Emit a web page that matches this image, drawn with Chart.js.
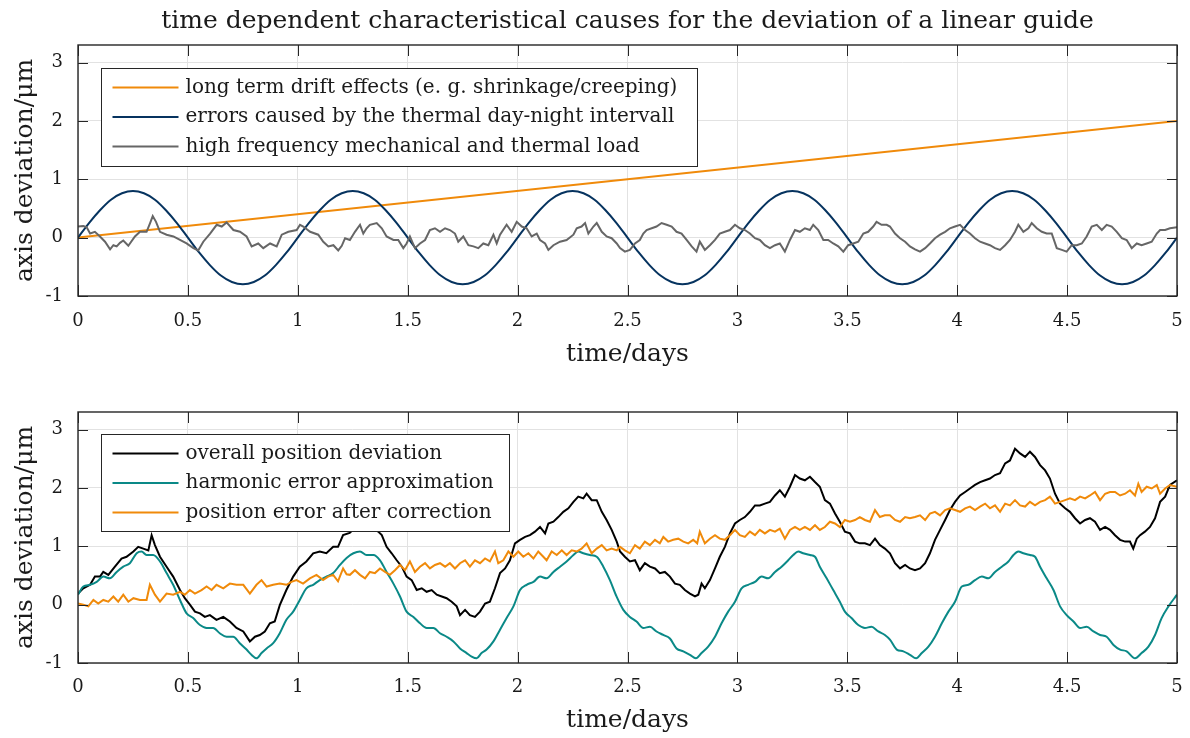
<!DOCTYPE html>
<html>
<head>
<meta charset="utf-8">
<title>linear guide deviation</title>
<script src="https://cdn.jsdelivr.net/npm/chart.js@4.4.1/dist/chart.umd.min.js"></script>
<style>
  html, body { margin: 0; padding: 0; background: #fff; }
  canvas { display: block; }
</style>
</head>
<body>
<canvas id="causesChart" width="1190" height="369"></canvas>
<canvas id="correctionChart" width="1190" height="369"></canvas>
<script>
// axis ticks
const xTicks = [0, 0.5, 1, 1.5, 2, 2.5, 3, 3.5, 4, 4.5, 5];
const yTicks = [-1, 0, 1, 2, 3];

// [days, µm]
const driftEffects = [[0, 0], [5, 2]];

const dayNight = [
  [0, 0], [0.05, 0.25], [0.1, 0.47], [0.15, 0.65], [0.2, 0.76], [0.25, 0.8], [0.3, 0.76], [0.35, 0.65], [0.4, 0.47], [0.45, 0.25],
  [0.5, 0], [0.55, -0.25], [0.6, -0.47], [0.65, -0.65], [0.7, -0.76], [0.75, -0.8], [0.8, -0.76], [0.85, -0.65], [0.9, -0.47], [0.95, -0.25],
  [1, 0], [1.05, 0.25], [1.1, 0.47], [1.15, 0.65], [1.2, 0.76], [1.25, 0.8], [1.3, 0.76], [1.35, 0.65], [1.4, 0.47], [1.45, 0.25],
  [1.5, 0], [1.55, -0.25], [1.6, -0.47], [1.65, -0.65], [1.7, -0.76], [1.75, -0.8], [1.8, -0.76], [1.85, -0.65], [1.9, -0.47], [1.95, -0.25],
  [2, 0], [2.05, 0.25], [2.1, 0.47], [2.15, 0.65], [2.2, 0.76], [2.25, 0.8], [2.3, 0.76], [2.35, 0.65], [2.4, 0.47], [2.45, 0.25],
  [2.5, 0], [2.55, -0.25], [2.6, -0.47], [2.65, -0.65], [2.7, -0.76], [2.75, -0.8], [2.8, -0.76], [2.85, -0.65], [2.9, -0.47], [2.95, -0.25],
  [3, 0], [3.05, 0.25], [3.1, 0.47], [3.15, 0.65], [3.2, 0.76], [3.25, 0.8], [3.3, 0.76], [3.35, 0.65], [3.4, 0.47], [3.45, 0.25],
  [3.5, 0], [3.55, -0.25], [3.6, -0.47], [3.65, -0.65], [3.7, -0.76], [3.75, -0.8], [3.8, -0.76], [3.85, -0.65], [3.9, -0.47], [3.95, -0.25],
  [4, 0], [4.05, 0.25], [4.1, 0.47], [4.15, 0.65], [4.2, 0.76], [4.25, 0.8], [4.3, 0.76], [4.35, 0.65], [4.4, 0.47], [4.45, 0.25],
  [4.5, 0], [4.55, -0.25], [4.6, -0.47], [4.65, -0.65], [4.7, -0.76], [4.75, -0.8], [4.8, -0.76], [4.85, -0.65], [4.9, -0.47], [4.95, -0.25],
  [5, 0]
];

const highFreqLoad = [
  [0, 0.19], [0.024, 0.2], [0.039, 0.18], [0.055, 0.07], [0.077, 0.1], [0.1, 0.02], [0.123, -0.07], [0.146, -0.2], [0.161, -0.13], [0.176, -0.15],
  [0.191, -0.09], [0.206, -0.05], [0.229, -0.14], [0.259, 0.02], [0.282, 0.1], [0.312, 0.1], [0.328, 0.25], [0.34, 0.37], [0.355, 0.27], [0.373, 0.1],
  [0.403, 0.05], [0.434, 0.02], [0.464, -0.04], [0.494, -0.1], [0.525, -0.18], [0.547, -0.22], [0.57, -0.07], [0.601, 0.07], [0.631, 0.22], [0.654, 0.19],
  [0.676, 0.26], [0.707, 0.13], [0.737, 0.1], [0.767, 0.02], [0.79, -0.15], [0.82, -0.1], [0.843, -0.18], [0.874, -0.1], [0.904, -0.15], [0.927, 0.05],
  [0.957, 0.1], [0.995, 0.13], [1.01, 0.22], [1.025, 0.19], [1.056, 0.1], [1.093, 0.05], [1.116, -0.07], [1.139, -0.15], [1.162, -0.13], [1.184, -0.22],
  [1.2, -0.14], [1.215, -0.01], [1.237, -0.04], [1.26, 0.1], [1.283, 0.22], [1.298, 0.07], [1.313, 0.16], [1.328, 0.22], [1.359, 0.25], [1.382, 0.16],
  [1.404, 0.02], [1.435, -0.04], [1.457, -0.04], [1.48, -0.18], [1.495, -0.1], [1.51, 0.02], [1.533, -0.18], [1.556, -0.1], [1.579, -0.04], [1.601, 0.13],
  [1.624, 0.16], [1.647, 0.1], [1.67, 0.16], [1.692, 0.13], [1.715, 0.07], [1.73, -0.07], [1.753, 0.02], [1.776, -0.13], [1.799, -0.15], [1.821, -0.18],
  [1.844, -0.1], [1.867, -0.13], [1.89, 0.05], [1.905, -0.1], [1.92, 0.05], [1.95, 0.22], [1.973, 0.1], [1.996, 0.27], [2.019, 0.19], [2.041, 0.16],
  [2.064, 0.02], [2.087, 0.07], [2.102, -0.04], [2.125, -0.1], [2.14, -0.21], [2.163, -0.13], [2.193, -0.07], [2.223, -0.04], [2.254, 0.05], [2.269, 0.16],
  [2.291, 0.19], [2.307, 0.25], [2.322, 0.07], [2.345, 0.19], [2.36, 0.25], [2.383, 0.1], [2.405, 0.02], [2.428, -0.01], [2.451, -0.1], [2.466, -0.18],
  [2.488, -0.24], [2.511, -0.21], [2.534, -0.1], [2.556, -0.04], [2.572, 0.07], [2.587, 0.13], [2.61, 0.16], [2.632, 0.19], [2.655, 0.25], [2.678, 0.22],
  [2.701, 0.19], [2.723, 0.1], [2.746, 0.07], [2.769, -0.04], [2.792, -0.15], [2.814, -0.24], [2.829, -0.07], [2.852, -0.21], [2.875, -0.13], [2.898, -0.04],
  [2.92, 0.07], [2.943, 0.1], [2.966, 0.13], [2.989, 0.22], [3.011, 0.16], [3.034, 0.13], [3.057, 0.07], [3.08, -0.01], [3.102, -0.04], [3.125, -0.13],
  [3.148, -0.18], [3.171, -0.13], [3.193, -0.1], [3.216, -0.24], [3.239, -0.04], [3.262, 0.13], [3.284, 0.1], [3.307, 0.16], [3.33, 0.13], [3.345, 0.22],
  [3.368, 0.13], [3.391, -0.04], [3.413, -0.04], [3.436, -0.1], [3.459, -0.15], [3.482, -0.24], [3.504, -0.13], [3.527, -0.1], [3.55, -0.07], [3.573, 0.07],
  [3.595, 0.1], [3.618, 0.19], [3.633, 0.27], [3.656, 0.22], [3.679, 0.22], [3.694, 0.19], [3.717, 0.07], [3.74, -0.01], [3.763, -0.07], [3.785, -0.15],
  [3.808, -0.2], [3.831, -0.24], [3.854, -0.18], [3.876, -0.1], [3.899, -0.01], [3.922, 0.05], [3.945, 0.1], [3.967, 0.16], [3.99, 0.19], [4.013, 0.22],
  [4.036, 0.13], [4.058, 0.07], [4.081, -0.01], [4.104, -0.07], [4.127, -0.1], [4.149, -0.13], [4.172, -0.18], [4.195, -0.21], [4.218, -0.13], [4.24, -0.04],
  [4.263, 0.1], [4.278, 0.22], [4.301, 0.1], [4.324, 0.16], [4.339, 0.25], [4.362, 0.16], [4.385, 0.1], [4.407, 0.07], [4.43, 0.07], [4.453, -0.18],
  [4.476, -0.21], [4.498, -0.24], [4.521, -0.13], [4.544, -0.13], [4.567, -0.1], [4.589, 0.02], [4.612, 0.19], [4.635, 0.22], [4.658, 0.13], [4.68, 0.22],
  [4.703, 0.19], [4.726, 0.1], [4.749, -0.01], [4.771, -0.04], [4.794, -0.18], [4.817, -0.1], [4.839, -0.13], [4.862, -0.1], [4.885, -0.07], [4.908, 0.07],
  [4.923, 0.13], [4.946, 0.13], [4.968, 0.16], [5, 0.18]
];

// [days, µm]
const overallDeviation = [
  [0, 0.19], [0.024, 0.28], [0.055, 0.34], [0.077, 0.48], [0.1, 0.48], [0.115, 0.56], [0.138, 0.51], [0.168, 0.65], [0.198, 0.79], [0.221, 0.82],
  [0.252, 0.91], [0.274, 0.99], [0.297, 0.96], [0.32, 0.93], [0.335, 1.19], [0.35, 1.02], [0.373, 0.82], [0.403, 0.65], [0.433, 0.48], [0.464, 0.25],
  [0.486, 0.11], [0.509, 0], [0.532, -0.12], [0.555, -0.15], [0.577, -0.21], [0.6, -0.18], [0.63, -0.26], [0.661, -0.21], [0.691, -0.29], [0.721, -0.4],
  [0.752, -0.46], [0.782, -0.63], [0.805, -0.55], [0.827, -0.52], [0.85, -0.46], [0.873, -0.32], [0.895, -0.29], [0.918, -0.01], [0.948, 0.25], [0.979, 0.48],
  [1.009, 0.65], [1.039, 0.74], [1.07, 0.88], [1.1, 0.91], [1.13, 0.88], [1.161, 0.99], [1.183, 0.99], [1.206, 1.19], [1.236, 1.23], [1.265, 1.33],
  [1.3, 1.42], [1.335, 1.36], [1.366, 1.25], [1.382, 1.19], [1.404, 0.99], [1.427, 0.88], [1.45, 0.76], [1.473, 0.65], [1.495, 0.48], [1.518, 0.42],
  [1.541, 0.25], [1.564, 0.28], [1.586, 0.22], [1.609, 0.25], [1.632, 0.17], [1.655, 0.14], [1.677, 0.11], [1.7, 0.05], [1.723, -0.03], [1.738, -0.18],
  [1.761, -0.09], [1.783, -0.18], [1.806, -0.21], [1.829, -0.12], [1.852, 0.02], [1.874, 0.05], [1.897, 0.28], [1.92, 0.54], [1.943, 0.62], [1.965, 0.76],
  [1.988, 1.05], [2.011, 1.11], [2.034, 1.16], [2.056, 1.19], [2.079, 1.25], [2.102, 1.33], [2.125, 1.22], [2.14, 1.39], [2.163, 1.42], [2.185, 1.5],
  [2.208, 1.59], [2.231, 1.65], [2.254, 1.76], [2.276, 1.85], [2.299, 1.82], [2.314, 1.9], [2.337, 1.79], [2.36, 1.79], [2.383, 1.59], [2.405, 1.45],
  [2.428, 1.28], [2.451, 1.08], [2.466, 0.91], [2.488, 0.82], [2.511, 0.74], [2.534, 0.76], [2.556, 0.59], [2.579, 0.71], [2.602, 0.65], [2.625, 0.62],
  [2.647, 0.54], [2.67, 0.56], [2.693, 0.48], [2.716, 0.36], [2.738, 0.34], [2.761, 0.25], [2.784, 0.19], [2.807, 0.14], [2.822, 0.17], [2.837, 0.36],
  [2.852, 0.28], [2.875, 0.42], [2.898, 0.62], [2.92, 0.82], [2.943, 0.99], [2.966, 1.22], [2.989, 1.39], [3.011, 1.45], [3.034, 1.5], [3.057, 1.59],
  [3.08, 1.7], [3.102, 1.7], [3.125, 1.73], [3.148, 1.76], [3.171, 1.87], [3.193, 1.96], [3.216, 1.85], [3.239, 2.02], [3.262, 2.22], [3.284, 2.16],
  [3.307, 2.13], [3.33, 2.19], [3.353, 2.1], [3.375, 2.02], [3.398, 1.79], [3.421, 1.73], [3.444, 1.56], [3.466, 1.42], [3.489, 1.25], [3.512, 1.22],
  [3.535, 1.08], [3.557, 1.05], [3.58, 1.05], [3.603, 1.02], [3.626, 1.13], [3.648, 1.02], [3.671, 0.96], [3.694, 0.88], [3.717, 0.71], [3.74, 0.62],
  [3.763, 0.68], [3.785, 0.62], [3.808, 0.59], [3.831, 0.62], [3.854, 0.71], [3.876, 0.88], [3.899, 1.11], [3.922, 1.28], [3.945, 1.45], [3.967, 1.62],
  [3.99, 1.76], [4.013, 1.87], [4.036, 1.93], [4.058, 1.99], [4.081, 2.05], [4.104, 2.1], [4.127, 2.13], [4.149, 2.16], [4.172, 2.22], [4.195, 2.25],
  [4.218, 2.42], [4.24, 2.47], [4.263, 2.67], [4.286, 2.59], [4.309, 2.53], [4.331, 2.62], [4.354, 2.53], [4.377, 2.39], [4.4, 2.3], [4.422, 2.16],
  [4.445, 1.9], [4.468, 1.73], [4.491, 1.65], [4.513, 1.59], [4.536, 1.48], [4.559, 1.39], [4.582, 1.45], [4.604, 1.48], [4.627, 1.42], [4.65, 1.28],
  [4.673, 1.33], [4.695, 1.28], [4.718, 1.19], [4.741, 1.11], [4.764, 1.08], [4.786, 1.08], [4.801, 0.96], [4.817, 1.13], [4.832, 1.19], [4.854, 1.25],
  [4.877, 1.33], [4.9, 1.48], [4.923, 1.76], [4.946, 1.85], [4.968, 2.05], [5, 2.13]
];

const harmonicApprox = [
  [0, 0.17], [0.024, 0.31], [0.055, 0.34], [0.085, 0.39], [0.115, 0.48], [0.145, 0.45], [0.176, 0.56], [0.206, 0.65], [0.236, 0.71], [0.267, 0.88],
  [0.289, 0.91], [0.312, 0.85], [0.342, 0.85], [0.373, 0.74], [0.403, 0.54], [0.433, 0.34], [0.464, 0.08], [0.494, -0.15], [0.524, -0.23], [0.555, -0.35],
  [0.585, -0.4], [0.615, -0.4], [0.645, -0.49], [0.676, -0.55], [0.706, -0.55], [0.736, -0.66], [0.767, -0.77], [0.789, -0.86], [0.812, -0.92], [0.835, -0.83],
  [0.858, -0.75], [0.888, -0.66], [0.918, -0.49], [0.948, -0.26], [0.979, -0.12], [1.009, 0.08], [1.039, 0.28], [1.07, 0.34], [1.1, 0.42], [1.13, 0.48],
  [1.161, 0.54], [1.192, 0.68], [1.222, 0.8], [1.253, 0.88], [1.283, 0.91], [1.313, 0.85], [1.344, 0.85], [1.374, 0.76], [1.404, 0.56], [1.435, 0.36],
  [1.465, 0.14], [1.495, -0.12], [1.526, -0.21], [1.556, -0.32], [1.586, -0.4], [1.617, -0.4], [1.647, -0.49], [1.677, -0.55], [1.708, -0.63], [1.738, -0.75],
  [1.768, -0.83], [1.791, -0.89], [1.814, -0.92], [1.836, -0.83], [1.859, -0.77], [1.89, -0.63], [1.92, -0.43], [1.95, -0.23], [1.981, -0.03], [2.011, 0.25],
  [2.041, 0.34], [2.072, 0.39], [2.102, 0.48], [2.132, 0.45], [2.163, 0.56], [2.193, 0.65], [2.223, 0.74], [2.254, 0.85], [2.276, 0.91], [2.299, 0.88],
  [2.329, 0.85], [2.36, 0.82], [2.39, 0.65], [2.42, 0.42], [2.45, 0.14], [2.481, -0.09], [2.511, -0.21], [2.541, -0.29], [2.572, -0.4], [2.602, -0.38],
  [2.632, -0.46], [2.663, -0.52], [2.693, -0.58], [2.723, -0.75], [2.754, -0.8], [2.784, -0.86], [2.811, -0.92], [2.837, -0.83], [2.867, -0.72], [2.898, -0.55],
  [2.928, -0.32], [2.958, -0.12], [2.989, 0.05], [3.019, 0.28], [3.049, 0.34], [3.08, 0.39], [3.11, 0.48], [3.14, 0.45], [3.171, 0.56], [3.201, 0.65],
  [3.231, 0.76], [3.254, 0.85], [3.277, 0.91], [3.299, 0.88], [3.33, 0.85], [3.353, 0.82], [3.375, 0.65], [3.406, 0.45], [3.436, 0.25], [3.466, 0.05],
  [3.489, -0.12], [3.519, -0.23], [3.55, -0.35], [3.58, -0.4], [3.61, -0.38], [3.641, -0.46], [3.671, -0.52], [3.694, -0.6], [3.725, -0.77], [3.755, -0.8],
  [3.785, -0.86], [3.813, -0.92], [3.839, -0.83], [3.869, -0.72], [3.899, -0.55], [3.93, -0.32], [3.96, -0.12], [3.99, 0.05], [4.021, 0.31], [4.051, 0.34],
  [4.081, 0.42], [4.112, 0.48], [4.142, 0.45], [4.172, 0.56], [4.203, 0.65], [4.233, 0.74], [4.256, 0.85], [4.278, 0.91], [4.301, 0.88], [4.331, 0.85],
  [4.354, 0.82], [4.377, 0.65], [4.407, 0.45], [4.438, 0.25], [4.468, -0.03], [4.498, -0.18], [4.529, -0.29], [4.559, -0.4], [4.589, -0.38], [4.62, -0.46],
  [4.65, -0.52], [4.68, -0.55], [4.711, -0.69], [4.741, -0.77], [4.771, -0.8], [4.809, -0.92], [4.839, -0.83], [4.87, -0.72], [4.9, -0.52], [4.93, -0.23],
  [4.961, -0.03], [5, 0.17]
];

const afterCorrection = [
  [0, 0.02], [0.024, 0], [0.047, -0.03], [0.07, 0.08], [0.092, 0.02], [0.115, 0.08], [0.138, 0.05], [0.161, 0.14], [0.183, 0.05], [0.206, 0.17],
  [0.229, 0.05], [0.252, 0.11], [0.282, 0.08], [0.312, 0.08], [0.327, 0.34], [0.35, 0.17], [0.373, 0.05], [0.403, 0.19], [0.433, 0.17], [0.464, 0.22],
  [0.486, 0.17], [0.509, 0.25], [0.532, 0.19], [0.562, 0.25], [0.585, 0.31], [0.608, 0.25], [0.63, 0.34], [0.661, 0.28], [0.691, 0.36], [0.721, 0.34],
  [0.752, 0.34], [0.782, 0.19], [0.812, 0.34], [0.835, 0.42], [0.858, 0.31], [0.888, 0.34], [0.918, 0.36], [0.948, 0.34], [0.971, 0.39], [0.994, 0.42],
  [1.024, 0.36], [1.055, 0.45], [1.085, 0.51], [1.115, 0.42], [1.138, 0.48], [1.161, 0.51], [1.183, 0.4], [1.206, 0.62], [1.222, 0.52], [1.237, 0.51],
  [1.26, 0.59], [1.283, 0.51], [1.306, 0.45], [1.328, 0.56], [1.351, 0.54], [1.374, 0.62], [1.397, 0.56], [1.419, 0.51], [1.442, 0.59], [1.465, 0.68],
  [1.488, 0.59], [1.51, 0.74], [1.533, 0.56], [1.556, 0.65], [1.579, 0.71], [1.601, 0.62], [1.624, 0.68], [1.647, 0.71], [1.67, 0.65], [1.692, 0.71],
  [1.715, 0.62], [1.738, 0.71], [1.761, 0.76], [1.783, 0.65], [1.806, 0.76], [1.829, 0.71], [1.852, 0.79], [1.874, 0.74], [1.897, 0.91], [1.912, 0.71],
  [1.935, 0.76], [1.958, 0.91], [1.981, 0.82], [2.003, 0.91], [2.026, 0.82], [2.049, 0.88], [2.072, 0.79], [2.094, 0.91], [2.117, 0.82], [2.132, 0.76],
  [2.155, 0.91], [2.178, 0.85], [2.201, 0.93], [2.223, 0.85], [2.246, 0.93], [2.269, 0.91], [2.291, 0.96], [2.314, 1.05], [2.337, 0.88], [2.36, 0.96],
  [2.383, 1.02], [2.405, 0.93], [2.428, 0.96], [2.451, 0.93], [2.466, 0.99], [2.488, 0.93], [2.511, 0.88], [2.534, 1.02], [2.556, 0.96], [2.579, 1.08],
  [2.602, 1.02], [2.625, 1.11], [2.647, 1.05], [2.663, 1.16], [2.685, 1.08], [2.708, 1.11], [2.731, 1.13], [2.754, 1.08], [2.776, 1.05], [2.799, 1.11],
  [2.817, 1.05], [2.829, 1.25], [2.852, 1.05], [2.875, 1.13], [2.898, 1.19], [2.92, 1.13], [2.943, 1.11], [2.966, 1.19], [2.989, 1.28], [3.011, 1.19],
  [3.034, 1.16], [3.057, 1.25], [3.08, 1.19], [3.102, 1.28], [3.125, 1.22], [3.148, 1.28], [3.171, 1.25], [3.193, 1.3], [3.216, 1.13], [3.239, 1.28],
  [3.262, 1.33], [3.284, 1.28], [3.307, 1.33], [3.33, 1.28], [3.353, 1.36], [3.375, 1.28], [3.398, 1.33], [3.421, 1.42], [3.444, 1.39], [3.466, 1.33],
  [3.489, 1.45], [3.512, 1.42], [3.535, 1.45], [3.557, 1.5], [3.58, 1.45], [3.603, 1.42], [3.626, 1.62], [3.648, 1.5], [3.671, 1.53], [3.694, 1.53],
  [3.717, 1.45], [3.74, 1.42], [3.763, 1.5], [3.785, 1.48], [3.808, 1.5], [3.831, 1.53], [3.854, 1.45], [3.876, 1.56], [3.899, 1.59], [3.922, 1.53],
  [3.945, 1.62], [3.967, 1.65], [3.99, 1.62], [4.013, 1.59], [4.036, 1.65], [4.058, 1.68], [4.081, 1.62], [4.104, 1.68], [4.127, 1.73], [4.149, 1.65],
  [4.172, 1.7], [4.195, 1.59], [4.218, 1.73], [4.24, 1.7], [4.263, 1.79], [4.286, 1.7], [4.309, 1.68], [4.331, 1.76], [4.354, 1.7], [4.377, 1.76],
  [4.4, 1.79], [4.422, 1.85], [4.445, 1.73], [4.468, 1.76], [4.491, 1.79], [4.513, 1.82], [4.536, 1.79], [4.559, 1.85], [4.582, 1.82], [4.604, 1.87],
  [4.627, 1.93], [4.65, 1.79], [4.673, 1.9], [4.695, 1.93], [4.718, 1.93], [4.741, 1.87], [4.764, 1.9], [4.786, 1.96], [4.809, 1.87], [4.824, 2.07],
  [4.839, 1.93], [4.862, 2.02], [4.885, 1.99], [4.908, 2.05], [4.923, 1.9], [4.946, 1.99], [4.968, 2.05], [5, 2.02]
];

const serif = "'DejaVu Serif', serif";
const textColor = '#1a1a1a';
const axisColor = '#262626';
const gridColor = '#e2e2e2';

Chart.defaults.font.family = serif;
Chart.defaults.color = textColor;

const toPoints = pairs => pairs.map(p => ({ x: p[0], y: p[1] }));

// MATLAB style frame: box, inward ticks on all four sides, legend inside the axes
const frameAndLegend = {
  id: 'frameAndLegend',
  afterDatasetsDraw(chart, args, opts) {
    const { ctx, chartArea: a, scales } = chart;
    ctx.save();

    ctx.strokeStyle = axisColor;
    ctx.lineWidth = 1;
    ctx.beginPath();
    xTicks.forEach(v => {
      const px = Math.round(scales.x.getPixelForValue(v)) + 0.5;
      ctx.moveTo(px, a.bottom); ctx.lineTo(px, a.bottom - 11);
      ctx.moveTo(px, a.top); ctx.lineTo(px, a.top + 11);
    });
    yTicks.forEach(v => {
      const py = Math.round(scales.y.getPixelForValue(v)) + 0.5;
      ctx.moveTo(a.left, py); ctx.lineTo(a.left + 10, py);
      ctx.moveTo(a.right, py); ctx.lineTo(a.right - 10, py);
    });
    ctx.stroke();
    ctx.lineWidth = 1.4;
    ctx.strokeRect(a.left, a.top, a.right - a.left, a.bottom - a.top);

    // legend box
    const bx = Math.round(a.left + opts.left) + 0.5;
    const by = Math.round(a.top + opts.top) + 0.5;
    const items = chart.data.datasets;
    ctx.fillStyle = '#fff';
    ctx.fillRect(bx, by, opts.width, opts.height);
    ctx.lineWidth = 1;
    ctx.strokeStyle = axisColor;
    ctx.strokeRect(bx, by, opts.width, opts.height);
    ctx.font = '20px ' + serif;
    ctx.textBaseline = 'middle';
    items.forEach((ds, i) => {
      const cy = by + 19 + i * 29.5;
      ctx.strokeStyle = ds.borderColor;
      ctx.lineWidth = 2;
      ctx.beginPath();
      ctx.moveTo(bx + 11, cy);
      ctx.lineTo(bx + 77, cy);
      ctx.stroke();
      ctx.fillStyle = textColor;
      ctx.fillText(ds.label, bx + 84, cy);
    });
    ctx.restore();
  }
};

function scalesFor(xAxisHeight, xTitlePad, xTickPad) {
  return {
    x: {
      type: 'linear',
      min: 0,
      max: 5,
      afterBuildTicks: axis => { axis.ticks = xTicks.map(v => ({ value: v })); },
      // fixed height; drop the label overhang so layout padding alone sets the right edge
      afterFit: axis => {
        axis.height = xAxisHeight;
        axis.paddingLeft = 0;
        axis.paddingRight = 0;
      },
      grid: { color: gridColor, drawTicks: false },
      border: { display: false },
      ticks: { padding: xTickPad, autoSkip: false, maxRotation: 0, font: { size: 18 }, callback: v => String(v) },
      title: { display: true, text: 'time/days', font: { size: 25 }, padding: { top: 0, bottom: xTitlePad } }
    },
    y: {
      type: 'linear',
      min: -1,
      max: 3.3,
      afterBuildTicks: axis => { axis.ticks = yTicks.map(v => ({ value: v })); },
      afterFit: axis => { axis.width = 78; },
      grid: { color: gridColor, drawTicks: false },
      border: { display: false },
      ticks: { padding: 15, font: { size: 18 }, callback: v => String(v) },
      title: { display: true, text: 'axis deviation/\u03bcm', font: { size: 25 }, padding: { top: 10, bottom: 0 } }
    }
  };
}

function lineSet(label, pairs, color, order, smooth) {
  return {
    label: label,
    data: toPoints(pairs),
    borderColor: color,
    borderWidth: 2,
    pointRadius: 0,
    fill: false,
    order: order,
    cubicInterpolationMode: smooth ? 'monotone' : 'default',
    tension: 0
  };
}

new Chart(document.getElementById('causesChart'), {
  type: 'line',
  data: {
    datasets: [
      lineSet('long term drift effects (e. g. shrinkage/creeping)', driftEffects, '#f08a0a', 3, false),
      lineSet('errors caused by the thermal day-night intervall', dayNight, '#06335f', 2, true),
      lineSet('high frequency mechanical and thermal load', highFreqLoad, '#666666', 1, false)
    ]
  },
  options: {
    responsive: false,
    animation: false,
    events: [],
    layout: { padding: { left: 0, right: 13, top: 0, bottom: 0 } },
    scales: scalesFor(73, 0, 15),
    plugins: {
      legend: { display: false },
      tooltip: { enabled: false },
      title: {
        display: true,
        fullSize: false,
        text: 'time dependent characteristical causes for the deviation of a linear guide',
        font: { size: 25, weight: 'normal' },
        color: textColor,
        padding: { top: 6, bottom: 9 }
      },
      frameAndLegend: { left: 23, top: 22.5, width: 596, height: 98 }
    }
  },
  plugins: [frameAndLegend]
});

new Chart(document.getElementById('correctionChart'), {
  type: 'line',
  data: {
    datasets: [
      lineSet('overall position deviation', overallDeviation, '#000000', 3, false),
      lineSet('harmonic error approximation', harmonicApprox, '#0a8987', 2, true),
      lineSet('position error after correction', afterCorrection, '#f08a0a', 1, false)
    ]
  },
  options: {
    responsive: false,
    animation: false,
    events: [],
    layout: { padding: { left: 0, right: 13, top: 43, bottom: 0 } },
    scales: scalesFor(75, 3, 14),
    plugins: {
      legend: { display: false },
      tooltip: { enabled: false },
      title: { display: false },
      frameAndLegend: { left: 23, top: 22, width: 408, height: 97 }
    }
  },
  plugins: [frameAndLegend]
});
</script>
</body>
</html>
